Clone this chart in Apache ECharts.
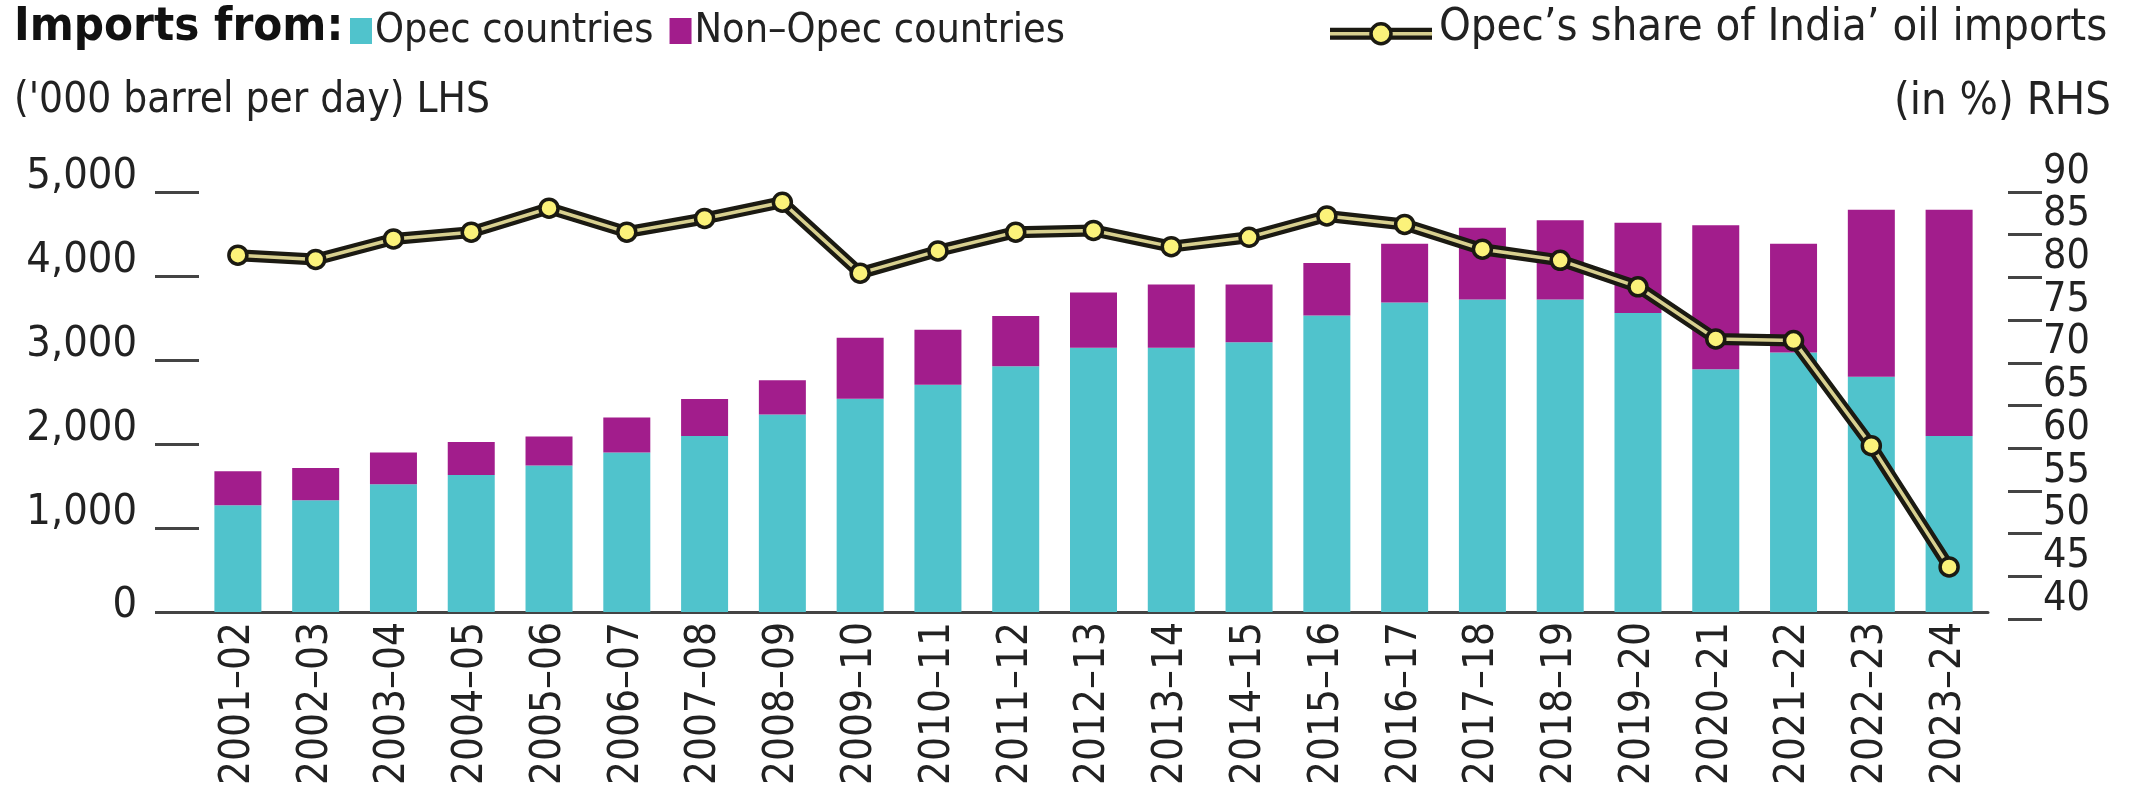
<!DOCTYPE html>
<html>
<head>
<meta charset="utf-8">
<script src="https://cdn.jsdelivr.net/npm/echarts@6/dist/echarts.min.js"></script>
<style>
  html, body { margin: 0; padding: 0; background: #fff; }
  #chart { width: 2129px; height: 792px; }
</style>
</head>
<body>
<div id="chart"></div>
<script>
const categories = [
  "2001–02", "2002–03", "2003–04", "2004–05", "2005–06", "2006–07",
  "2007–08", "2008–09", "2009–10", "2010–11", "2011–12", "2012–13",
  "2013–14", "2014–15", "2015–16", "2016–17", "2017–18", "2018–19",
  "2019–20", "2020–21", "2021–22", "2022–23", "2023–24"
];

// '000 barrel per day (LHS)
const opecImports = [
  1270, 1330, 1520, 1630, 1745, 1900, 2095, 2350, 2540, 2705, 2925, 3145,
  3145, 3210, 3530, 3685, 3720, 3720, 3560, 2890, 3090, 2800, 2095
];
const nonOpecImports = [
  405, 385, 380, 395, 345, 415, 440, 410, 725, 655, 600, 660,
  755, 690, 625, 700, 855, 945, 1075, 1715, 1295, 1990, 2695
];

// Opec's share of India' oil imports, % (RHS)
const opecShare = [
  82.6, 82.1, 84.5, 85.3, 88.1, 85.3, 86.9, 88.8, 80.5, 83.1, 85.3, 85.5,
  83.6, 84.7, 87.2, 86.2, 83.3, 82.0, 78.9, 72.8, 72.6, 60.3, 46.1
];

const leftTicks = [0, 1000, 2000, 3000, 4000, 5000];
const rightTicks = [40, 45, 50, 55, 60, 65, 70, 75, 80, 85, 90];

const FONT = "'DejaVu Sans Condensed', 'DejaVu Sans', sans-serif";
const TEXT = "#222";
const AXIS = "#444";
const CYAN = "#50c3cc";
const PURPLE = "#a21d8c";
const OUTLINE = "#1b1a12";

const chart = echarts.init(document.getElementById("chart"));

const option = {
  animation: false,
  textStyle: { fontFamily: FONT, color: TEXT },
  grid: [
    { left: 199, right: 141, top: 192, bottom: 180, outerBoundsMode: "none", containLabel: false },
    { left: 199, right: 141, top: 192, bottom: 173, outerBoundsMode: "none", containLabel: false }
  ],
  legend: {
    data: ["Opec countries", "Non–Opec countries"],
    left: 350,
    top: 9,
    icon: "rect",
    itemWidth: 22,
    itemHeight: 26,
    itemGap: 16,
    padding: 0,
    textStyle: { fontFamily: FONT, fontSize: 41, color: TEXT, lineHeight: 44, padding: [0, 0, 0, -2] }
  },
  xAxis: [
    {
      type: "category",
      gridIndex: 0,
      data: categories,
      axisLine: { lineStyle: { color: AXIS, width: 3 } },
      axisTick: { show: false },
      axisLabel: {
        interval: 0,
        rotate: 90,
        margin: 10,
        fontFamily: FONT,
        fontSize: 42,
        color: TEXT
      }
    },
    {
      type: "category",
      gridIndex: 1,
      data: categories,
      show: false
    }
  ],
  yAxis: [
    {
      type: "value",
      gridIndex: 0,
      min: leftTicks[0],
      max: leftTicks[leftTicks.length - 1],
      interval: leftTicks[1] - leftTicks[0],
      axisLine: { show: false },
      axisTick: { show: true, length: 44, lineStyle: { color: AXIS, width: 3 } },
      splitLine: { show: false },
      axisLabel: {
        margin: 62,
        fontFamily: FONT,
        fontSize: 43,
        color: TEXT,
        verticalAlign: "middle",
        showMinLabel: true,
        showMaxLabel: true,
        hideOverlap: false,
        formatter: (v) => (v === 0 ? "{z|0}" : "{n|" + v.toLocaleString("en-US") + "}"),
        rich: {
          n: { fontFamily: FONT, fontSize: 43, color: TEXT, lineHeight: 30, padding: [0, 0, 30, 0] },
          z: { fontFamily: FONT, fontSize: 43, color: TEXT, lineHeight: 30, padding: [0, 0, 12, 0] }
        }
      }
    },
    {
      type: "value",
      gridIndex: 1,
      position: "right",
      offset: 20,
      min: rightTicks[0],
      max: rightTicks[rightTicks.length - 1],
      interval: rightTicks[1] - rightTicks[0],
      axisLine: { show: false },
      axisTick: { show: true, length: 34, lineStyle: { color: AXIS, width: 3 } },
      splitLine: { show: false },
      axisLabel: {
        margin: 35,
        fontFamily: FONT,
        fontSize: 41,
        color: TEXT,
        verticalAlign: "bottom",
        lineHeight: 40,
        showMinLabel: true,
        showMaxLabel: true,
        hideOverlap: false
      }
    }
  ],
  series: [
    {
      name: "Opec countries",
      type: "bar",
      stack: "imports",
      barWidth: 47,
      xAxisIndex: 0,
      yAxisIndex: 0,
      itemStyle: { color: CYAN },
      data: opecImports
    },
    {
      name: "Non–Opec countries",
      type: "bar",
      stack: "imports",
      barWidth: 47,
      xAxisIndex: 0,
      yAxisIndex: 0,
      itemStyle: { color: PURPLE },
      data: nonOpecImports
    },
    {
      name: "share-outline",
      type: "line",
      xAxisIndex: 1,
      yAxisIndex: 1,
      silent: true,
      symbol: "none",
      lineStyle: { color: OUTLINE, width: 12, join: "round" },
      data: opecShare,
      z: 3
    },
    {
      name: "Opec’s share of India’ oil imports",
      type: "line",
      xAxisIndex: 1,
      yAxisIndex: 1,
      symbol: "circle",
      symbolSize: 18,
      lineStyle: { color: "#d8d08f", width: 3.5, join: "round" },
      itemStyle: { color: "#fbf27a", borderColor: OUTLINE, borderWidth: 3.5 },
      data: opecShare,
      z: 4
    }
  ],
  graphic: [
    {
      type: "text",
      left: 14,
      top: 4,
      style: { text: "Imports from:", fontFamily: FONT, fontSize: 47, fontWeight: "bold", fill: "#111" }
    },
    {
      type: "text",
      left: 14,
      top: 80,
      style: { text: "('000 barrel per day) LHS", fontFamily: FONT, fontSize: 42, fill: TEXT }
    },
    {
      type: "group",
      left: 1324,
      top: 22,
      children: [
        { type: "line", shape: { x1: 0, y1: 13, x2: 102, y2: 13 }, style: { stroke: OUTLINE, lineWidth: 12 } },
        { type: "line", shape: { x1: 0, y1: 13, x2: 102, y2: 13 }, style: { stroke: "#d8d08f", lineWidth: 3.5 } },
        { type: "circle", shape: { cx: 51, cy: 13, r: 10 }, style: { fill: "#fbf27a", stroke: OUTLINE, lineWidth: 3.5 } }
      ]
    },
    {
      type: "text",
      left: 1439,
      top: 6,
      style: { text: "Opec’s share of India’ oil imports", fontFamily: FONT, fontSize: 45, fill: TEXT }
    },
    {
      type: "text",
      right: 18,
      top: 80,
      style: { text: "(in %) RHS", fontFamily: FONT, fontSize: 45, fill: TEXT, align: "right" }
    }
  ]
};

chart.setOption(option);
window.addEventListener("resize", () => chart.resize());
</script>
</body>
</html>
